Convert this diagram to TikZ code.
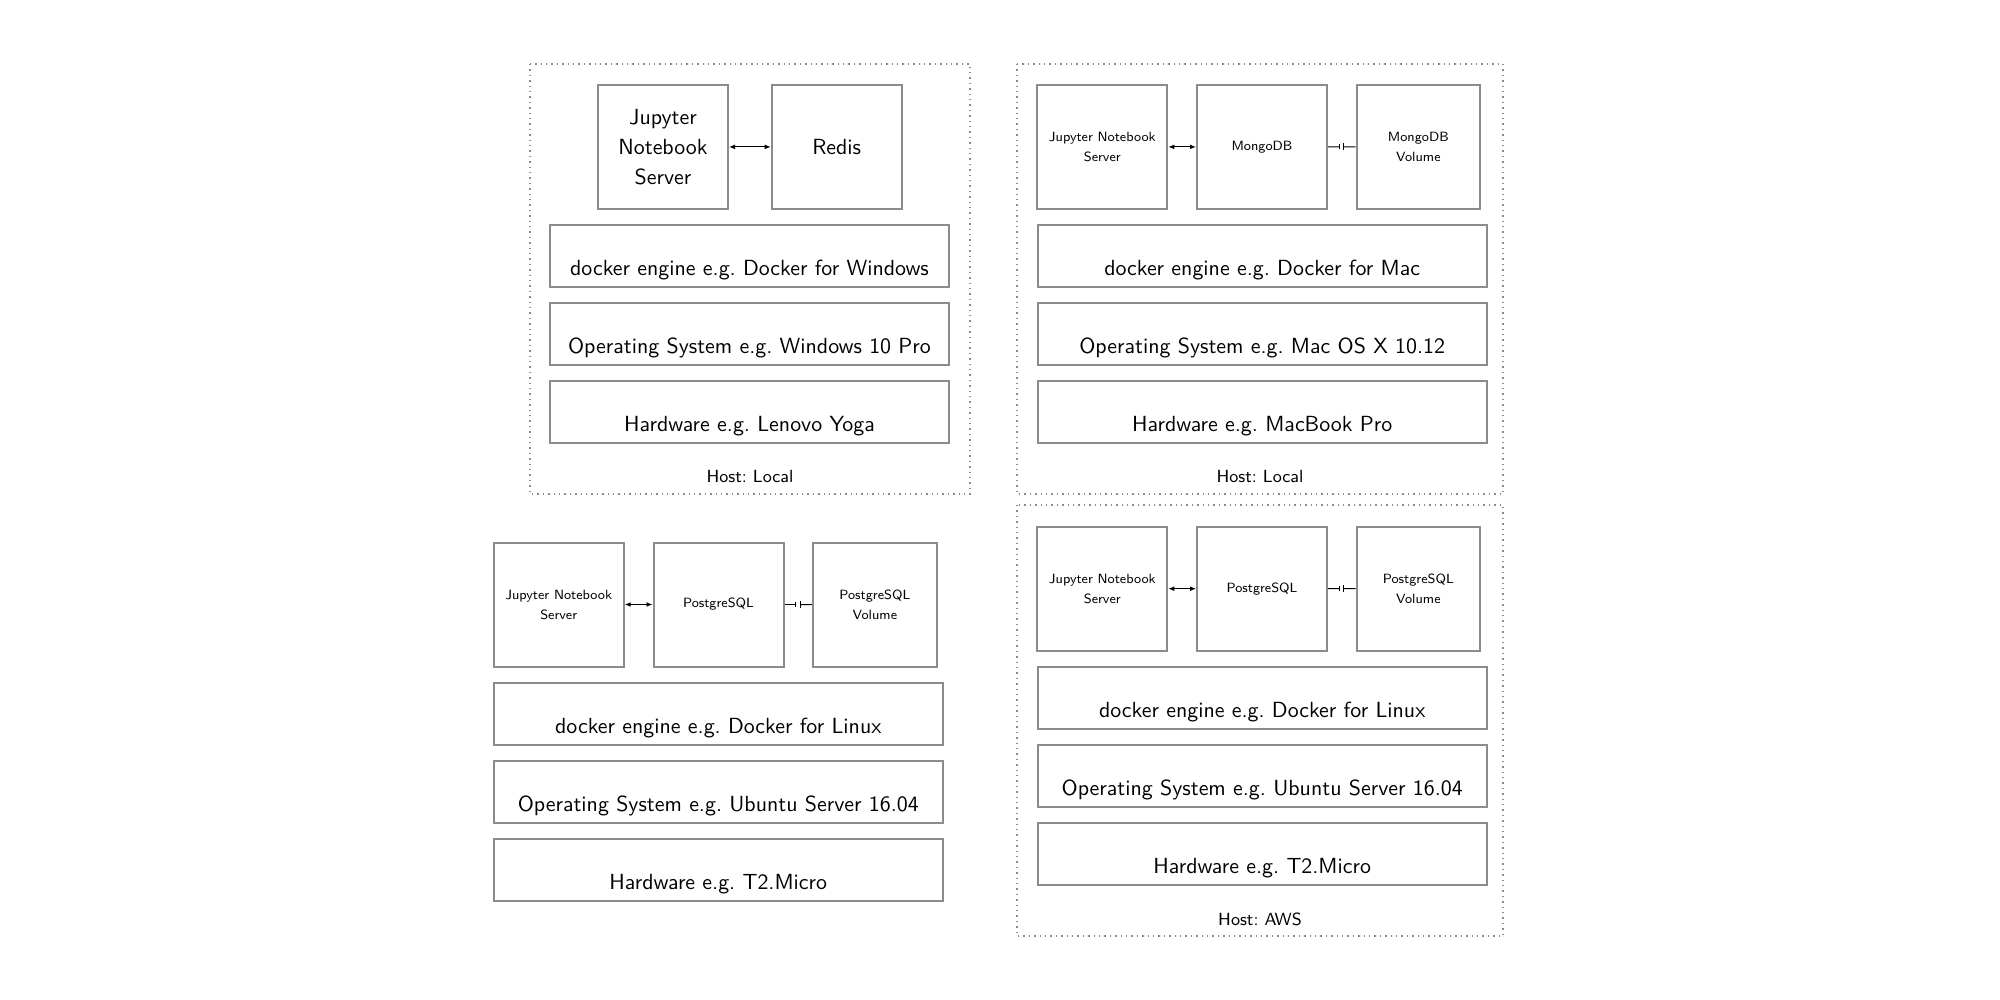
\documentclass[tikz,border=0pt]{standalone}
\usepackage{tikz}
\usetikzlibrary{arrows.meta, calc, positioning}
\frenchspacing

\begin{document}
\begin{tikzpicture}[x=0.5pt, y=-0.5pt]
    % --- Styles ---
    \tikzstyle{container_box}=[
        draw=black!45,
        line width=1pt,
        minimum width=65pt,
        minimum height=62pt,
        inner sep=0pt,
        align=center,
        font=\sffamily\fontsize{10.95}{15}\selectfont
    ]
    \tikzstyle{small_box}=[container_box, font=\sffamily\fontsize{6.7}{10}\selectfont]
    \tikzstyle{volume_box}=[small_box, minimum width=61.7pt]
    \tikzstyle{layer_box}=[
        draw=black!45,
        line width=1pt,
        minimum width=224.5pt,
        minimum height=31pt,
        inner sep=0pt,
        text height=21.5pt,
        text depth=2pt,
        font=\sffamily\fontsize{10.95}{13.6}\selectfont
    ]
    \tikzstyle{host_frame}=[draw=black!45, line width=0.9pt, dash pattern=on 0.7pt off 2pt]
    \tikzstyle{host_label}=[anchor=base, font=\sffamily\fontsize{8.8}{11}\selectfont]
    % Link between containers
    \tikzstyle{link_arrow}=[{Latex[length=3pt,width=2.4pt]}-{Latex[length=3pt,width=2.4pt]}, line width=0.5pt]
    % Mount of a volume
    \tikzstyle{volume_link}=[line width=0.5pt]

    \useasboundingbox (0,0) rectangle (2000,1000);

    % --- 1. Host: Local (Windows) ---
    \draw[host_frame] (530,64) rectangle (970,494);
    \node[container_box] (win_jupyter) at (663,146.9) {Jupyter\\Notebook\\Server};
    \node[container_box] (win_redis) at (836.7,146.9) {Redis};
    \node[layer_box, minimum width=199.5pt] (win_docker) at (749.5,256) {docker engine e.g. Docker for Windows};
    \node[layer_box, minimum width=199.5pt] (win_os) at (749.5,334) {Operating System e.g. Windows 10 Pro};
    \node[layer_box, minimum width=199.5pt] (win_hw) at (749.5,412) {Hardware e.g. Lenovo Yoga};
    \node[host_label] (win_host) at (750,482.7) {Host: Local};
    \draw[link_arrow] (win_jupyter) -- (win_redis);

    % --- 2. Host: Local (Mac) ---
    \draw[host_frame] (1017,64) rectangle (1503,494);
    \node[small_box] (mac_jupyter) at (1102.3,146.9) {Jupyter Notebook\\Server};
    \node[small_box] (mac_mongo) at (1262,146.9) {MongoDB};
    \node[volume_box] (mac_volume) at (1418.3,146.9) {MongoDB\\Volume};
    \node[layer_box] (mac_docker) at (1262.2,256) {docker engine e.g. Docker for Mac};
    \node[layer_box] (mac_os) at (1262.2,334) {Operating System e.g. Mac OS X 10.12};
    \node[layer_box] (mac_hw) at (1262.2,412) {Hardware e.g. MacBook Pro};
    \node[host_label] (mac_host) at (1260,482.7) {Host: Local};
    \draw[link_arrow] (mac_jupyter) -- (mac_mongo);
    \draw[volume_link, -{Bar[width=2.5pt]}] (mac_mongo.east) -- ($(mac_mongo.east)!0.43!(mac_volume.west)$);
    \draw[volume_link, {Bar[width=3.5pt]}-] ($(mac_mongo.east)!0.55!(mac_volume.west)$) -- (mac_volume.west);

    % --- 3. Linux (no frame) ---
    \node[small_box] (lin_jupyter) at (558.7,604.5) {Jupyter Notebook\\Server};
    \node[small_box] (lin_postgres) at (718.5,604.5) {PostgreSQL};
    \node[volume_box] (lin_volume) at (874.8,604.5) {PostgreSQL\\Volume};
    \node[layer_box] (lin_docker) at (718.3,713.7) {docker engine e.g. Docker for Linux};
    \node[layer_box] (lin_os) at (718.3,791.7) {Operating System e.g. Ubuntu Server 16.04};
    \node[layer_box] (lin_hw) at (718.3,869.7) {Hardware e.g. T2.Micro};
    \draw[link_arrow] (lin_jupyter) -- (lin_postgres);
    \draw[volume_link, -{Bar[width=2.5pt]}] (lin_postgres.east) -- ($(lin_postgres.east)!0.43!(lin_volume.west)$);
    \draw[volume_link, {Bar[width=3.5pt]}-] ($(lin_postgres.east)!0.55!(lin_volume.west)$) -- (lin_volume.west);

    % --- 4. Host: AWS ---
    \draw[host_frame] (1017,505) rectangle (1503,936);
    \node[small_box] (aws_jupyter) at (1102.3,588.7) {Jupyter Notebook\\Server};
    \node[small_box] (aws_postgres) at (1262,588.7) {PostgreSQL};
    \node[volume_box] (aws_volume) at (1418.3,588.7) {PostgreSQL\\Volume};
    \node[layer_box] (aws_docker) at (1262.2,697.8) {docker engine e.g. Docker for Linux};
    \node[layer_box] (aws_os) at (1262.2,775.8) {Operating System e.g. Ubuntu Server 16.04};
    \node[layer_box] (aws_hw) at (1262.2,853.5) {Hardware e.g. T2.Micro};
    \node[host_label] (aws_host) at (1260,925.3) {Host: AWS};
    \draw[link_arrow] (aws_jupyter) -- (aws_postgres);
    \draw[volume_link, -{Bar[width=2.5pt]}] (aws_postgres.east) -- ($(aws_postgres.east)!0.43!(aws_volume.west)$);
    \draw[volume_link, {Bar[width=3.5pt]}-] ($(aws_postgres.east)!0.55!(aws_volume.west)$) -- (aws_volume.west);

\end{tikzpicture}
\end{document}
